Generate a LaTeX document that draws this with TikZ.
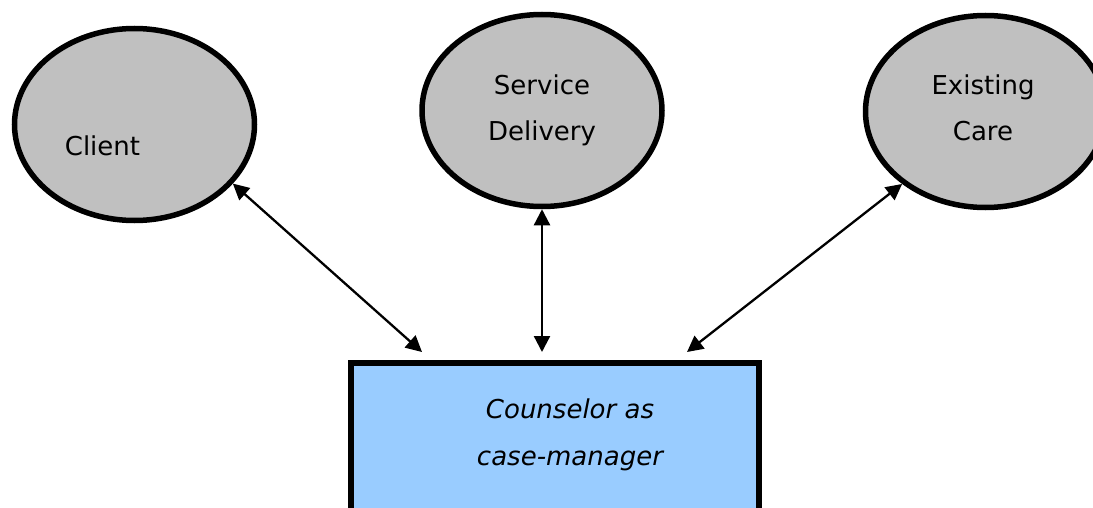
\documentclass[tikz,border=0pt]{standalone}
\usepackage{fontspec}
\setmainfont{DejaVu Sans}
\usetikzlibrary{shapes.geometric,arrows.meta}
\definecolor{ellgray}{HTML}{C0C0C0}
\definecolor{boxblue}{HTML}{99CCFF}
\tikzset{
  oval/.style={ellipse, draw=black, line width=5.5pt, fill=ellgray, minimum width=240pt, minimum height=192pt, inner sep=0pt},
  lbl/.style={font=\fontsize{26}{46}\selectfont, align=center, inner sep=0pt, anchor=base},
  rolebox/.style={rectangle, draw=black, line width=5.5pt, fill=boxblue, minimum width=408pt, minimum height=200pt, inner sep=0pt, anchor=north west},
  biarrow/.style={line width=2.3pt, {Triangle[length=16pt,width=16pt]}-{Triangle[length=16pt,width=16pt]}}
}
\begin{document}
\begin{tikzpicture}[x=1pt,y=-1pt]
\clip (0,0) rectangle (1093,508);
\fill[white] (0,0) rectangle (1093,508);
\node[oval] (client) at (134.5,124.5) {};
\node[oval] (service) at (542,110.5) {};
\node[oval] (existing) at (985.5,111.5) {};
\node[rolebox] (box) at (348,360) {};
\node[lbl] (clientlbl) at (102.5,156) {Client};
\node[lbl] (servicelbl) at (542,141) {Service\\Delivery};
\node[lbl] (existinglbl) at (983,141) {Existing\\Care};
\node[lbl, font=\fontsize{26}{47}\selectfont\itshape] (boxlbl) at (570,465) {Counselor as\\case-manager};
\coordinate (c1) at (422,352);
\coordinate (c2) at (542,352);
\coordinate (c3) at (687,352);
\draw[biarrow] (client.-31.4) -- (c1);
\draw[biarrow] (service.south) -- (c2);
\draw[biarrow] (existing.-139.4) -- (c3);
\end{tikzpicture}
\end{document}
